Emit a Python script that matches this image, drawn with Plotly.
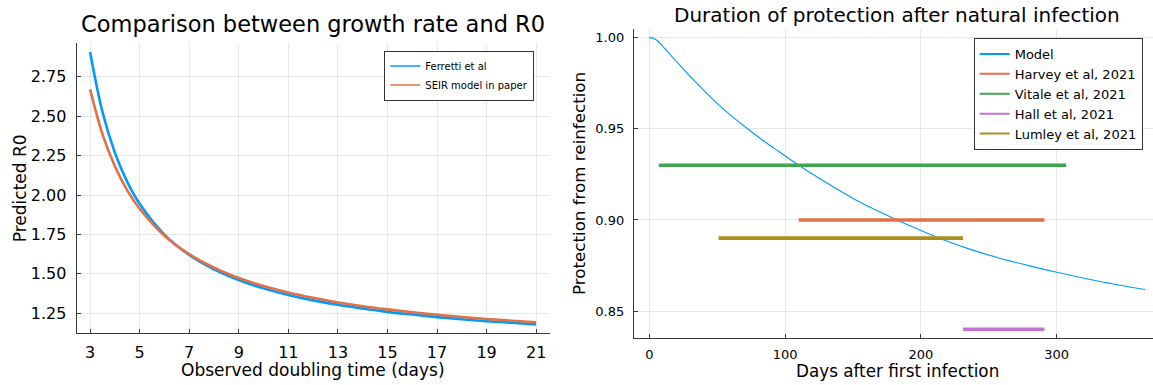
import plotly.graph_objects as go

# ---------------- data ----------------
doubling_time = [3, 3.5, 4, 4.5, 5, 6, 7, 8, 9, 10, 11, 12, 13, 14, 15, 16, 17, 18, 19, 20, 21]
ferretti_r0 = [2.907, 2.527, 2.269, 2.083, 1.944, 1.749, 1.620, 1.529, 1.461, 1.408, 1.366,
               1.332, 1.304, 1.280, 1.259, 1.242, 1.226, 1.212, 1.200, 1.190, 1.180]
seir_r0 = [2.670, 2.386, 2.183, 2.030, 1.913, 1.742, 1.625, 1.539, 1.474, 1.423, 1.382,
           1.348, 1.319, 1.295, 1.275, 1.257, 1.241, 1.227, 1.214, 1.203, 1.193]

model_days = [0, 3, 6, 9, 15, 22, 34, 46, 58, 70, 83, 95, 108, 126, 155, 180, 200, 216, 236,
              258, 280, 300, 332, 365]
model_protection = [1.0, 0.9997, 0.9983, 0.9960, 0.9910, 0.9853, 0.9757, 0.9667, 0.9586, 0.9514,
                    0.9440, 0.9377, 0.9310, 0.9225, 0.9098, 0.9008, 0.8942, 0.8893, 0.8840,
                    0.8790, 0.8748, 0.8713, 0.8662, 0.8618]

studies = ["Harvey et al, 2021", "Vitale et al, 2021", "Hall et al, 2021", "Lumley et al, 2021"]
study_start = [110, 7, 231, 51]
study_end = [291, 307, 291, 231]
study_protection = [0.90, 0.93, 0.84, 0.89]

left_xticks = [3, 5, 7, 9, 11, 13, 15, 17, 19, 21]
left_yticks = [1.25, 1.50, 1.75, 2.00, 2.25, 2.50, 2.75]
right_xticks = [0, 100, 200, 300]
right_yticks = [0.85, 0.90, 0.95, 1.00]

# ---------------- style ----------------
W, H = 1153, 385
FONT = "DejaVu Sans"
BLUE, RED, GREEN, PURPLE, OLIVE = "#009AFA", "#E36F47", "#3EA44E", "#C371D2", "#AC8E18"
study_colors = [RED, GREEN, PURPLE, OLIVE]

def px_x(p):
    return p / W

def px_y(p):
    return 1 - p / H

fig = go.Figure()

# left panel
fig.add_trace(go.Scatter(x=doubling_time, y=ferretti_r0, mode="lines", line=dict(color=BLUE, width=2.6, shape="spline"),
                         xaxis="x", yaxis="y", showlegend=False))
fig.add_trace(go.Scatter(x=doubling_time, y=seir_r0, mode="lines", line=dict(color=RED, width=2.6, shape="spline"),
                         xaxis="x", yaxis="y", showlegend=False))
fig.add_trace(go.Scatter(x=[None], y=[None], mode="lines", name="Ferretti et al", line=dict(color=BLUE, width=1.5),
                         xaxis="x", yaxis="y", legend="legend"))
fig.add_trace(go.Scatter(x=[None], y=[None], mode="lines", name="SEIR model in paper", line=dict(color=RED, width=1.5),
                         xaxis="x", yaxis="y", legend="legend"))

# right panel
fig.add_trace(go.Scatter(x=model_days, y=model_protection, mode="lines",
                         line=dict(color=BLUE, width=1.1, shape="spline", smoothing=0.8),
                         xaxis="x2", yaxis="y2", showlegend=False))
for name, s, e, p, c in zip(studies, study_start, study_end, study_protection, study_colors):
    fig.add_trace(go.Scatter(x=[s, e], y=[p, p], mode="lines", line=dict(color=c, width=3.6),
                             xaxis="x2", yaxis="y2", showlegend=False))

fig.add_trace(go.Scatter(x=[None], y=[None], mode="lines", name="Model", line=dict(color=BLUE, width=2),
                         xaxis="x2", yaxis="y2", legend="legend2"))
for name, c in zip(studies, study_colors):
    fig.add_trace(go.Scatter(x=[None], y=[None], mode="lines", name=name, line=dict(color=c, width=2),
                             xaxis="x2", yaxis="y2", legend="legend2"))

axis_common = dict(showline=True, linecolor="#3a3a3a", linewidth=1.2, mirror=False,
                   ticks="inside", ticklen=4, tickcolor="#3a3a3a", tickwidth=1,
                   showgrid=True, gridcolor="rgba(0,0,0,0.09)", gridwidth=1, zeroline=False,
                   color="black")

fig.update_layout(
    width=W, height=H, margin=dict(l=0, r=0, t=0, b=0),
    paper_bgcolor="white", plot_bgcolor="white",
    font=dict(family=FONT, color="black"),
    xaxis=dict(domain=[px_x(76.7), px_x(550)], range=[2.46, 21.56], anchor="y",
               tickvals=left_xticks, ticktext=[str(v) for v in left_xticks],
               tickfont=dict(size=16), ticklabelstandoff=5, **axis_common),
    yaxis=dict(domain=[px_y(332.7), px_y(43.3)], range=[1.127, 2.962], anchor="x",
               tickvals=left_yticks, ticktext=["%.2f" % v for v in left_yticks],
               tickfont=dict(size=16), ticklabelstandoff=6, **axis_common),
    xaxis2=dict(domain=[px_x(634), 1.0], range=[-11.27, 370.9], anchor="y2",
                tickvals=right_xticks, ticktext=[str(v) for v in right_xticks],
                tickfont=dict(size=13), ticklabelstandoff=5, **axis_common),
    yaxis2=dict(domain=[px_y(337.7), px_y(28.9)], range=[0.8354, 1.0048], anchor="x2",
                tickvals=right_yticks, ticktext=["%.2f" % v for v in right_yticks],
                tickfont=dict(size=13), ticklabelstandoff=6, **axis_common),
    legend=dict(x=px_x(534.3), y=px_y(50.5), xanchor="right", yanchor="top",
                bgcolor="white", bordercolor="#333", borderwidth=1,
                font=dict(size=10, family=FONT), tracegroupgap=0),
    legend2=dict(x=px_x(1142.7), y=px_y(38), xanchor="right", yanchor="top",
                 bgcolor="white", bordercolor="#333", borderwidth=1,
                 font=dict(size=13, family=FONT), tracegroupgap=0),
)

annotations = [
    dict(text="Comparison between growth rate and R0", x=px_x(313.4), y=px_y(24.5), font=dict(size=22.5)),
    dict(text="Duration of protection after natural infection", x=px_x(897), y=px_y(15), font=dict(size=20)),
    dict(text="Observed doubling time (days)", x=px_x(313.4), y=px_y(370), font=dict(size=17)),
    dict(text="Days after first infection", x=px_x(897), y=px_y(371), font=dict(size=16.8)),
    dict(text="Predicted R0", x=px_x(20.2), y=px_y(188), font=dict(size=17), textangle=-90),
    dict(text="Protection from reinfection", x=px_x(578.5), y=px_y(183.5), font=dict(size=16.7), textangle=-90),
]
for a in annotations:
    fig.add_annotation(xref="paper", yref="paper", xanchor="center", yanchor="middle", showarrow=False, **a)

fig.write_html("out.html")
